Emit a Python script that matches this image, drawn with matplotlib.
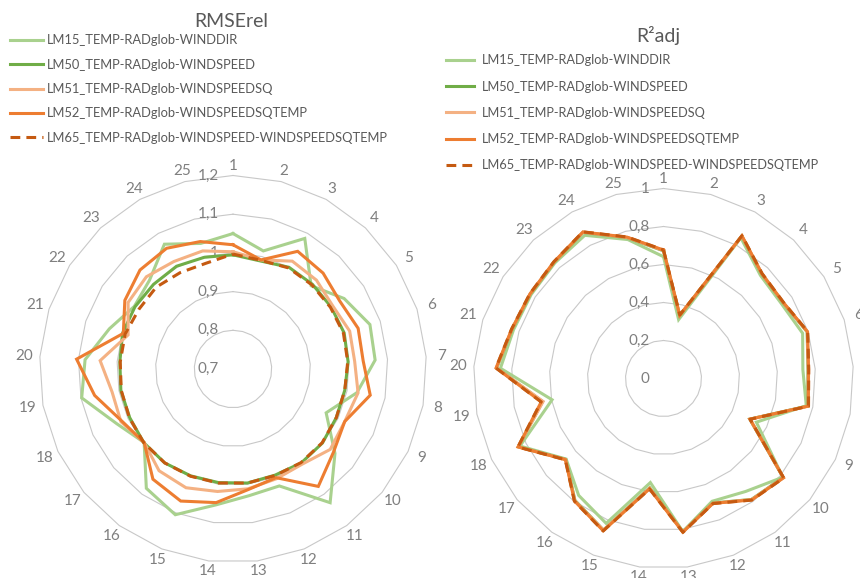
import numpy as np
import matplotlib
matplotlib.use("Agg")
import matplotlib.pyplot as plt

plt.rcParams['font.family'] = ['Lato', 'DejaVu Sans']

categories = [str(i) for i in range(1, 26)]

series_names = [
    "LM15_TEMP-RADglob-WINDDIR",
    "LM50_TEMP-RADglob-WINDSPEED",
    "LM51_TEMP-RADglob-WINDSPEEDSQ",
    "LM52_TEMP-RADglob-WINDSPEEDSQTEMP",
    "LM65_TEMP-RADglob-WINDSPEED-WINDSPEEDSQTEMP",
]
series_colors = ["#A9D18E", "#70AD47", "#F4B183", "#ED7D31", "#C55A11"]

# RMSErel per station
rmse_lm15 = [1.050, 1.015, 1.085, 0.995, 1.040, 1.072, 1.068, 1.026, 0.966, 1.042,
             1.127, 1.025, 1.030, 1.054, 1.105, 1.081, 0.998, 1.032, 1.098, 1.083,
             1.036, 1.002, 1.015, 1.068, 1.035]
rmse_lm50 = [0.995, 0.988, 1.000, 1.000, 1.000, 1.002, 0.998, 0.994, 0.995, 1.000,
             1.000, 0.995, 0.997, 0.996, 0.997, 1.000, 0.999, 0.995, 0.995, 0.993,
             1.000, 1.000, 1.000, 1.003, 0.998]
rmse_lm51 = [1.003, 0.991, 1.018, 1.015, 1.005, 1.017, 1.015, 1.029, 1.019, 1.026,
             1.004, 1.005, 1.012, 1.019, 1.030, 1.025, 0.998, 1.020, 1.018, 1.044,
             0.985, 1.021, 1.027, 1.017, 1.015]
rmse_lm52 = [1.021, 0.991, 1.047, 1.040, 1.027, 1.040, 1.037, 1.061, 1.019, 1.037,
             1.075, 1.002, 1.014, 1.048, 1.067, 1.052, 0.998, 1.017, 1.064, 1.105,
             0.998, 1.031, 1.051, 1.056, 1.040]
rmse_lm65 = [0.997, 0.990, 0.998, 0.998, 0.998, 1.000, 0.997, 0.994, 0.995, 0.999,
             0.999, 0.996, 0.997, 0.997, 0.998, 1.000, 0.999, 0.996, 0.994, 0.992,
             0.993, 0.988, 0.990, 0.984, 0.982]

# adjusted R² per station
r2_lm15 = [0.641, 0.320, 0.845, 0.745, 0.735, 0.770, 0.735, 0.765, 0.540, 0.815,
           0.735, 0.695, 0.812, 0.552, 0.820, 0.760, 0.665, 0.835, 0.597, 0.860,
           0.830, 0.825, 0.835, 0.860, 0.755]
r2_lm50 = [0.672, 0.342, 0.855, 0.755, 0.745, 0.795, 0.762, 0.773, 0.502, 0.818,
           0.787, 0.705, 0.813, 0.580, 0.858, 0.793, 0.668, 0.844, 0.648, 0.880,
           0.838, 0.830, 0.840, 0.878, 0.765]
r2_lm51 = [0.674, 0.343, 0.856, 0.756, 0.746, 0.796, 0.763, 0.775, 0.503, 0.819,
           0.788, 0.706, 0.814, 0.582, 0.858, 0.795, 0.669, 0.845, 0.645, 0.881,
           0.839, 0.831, 0.841, 0.879, 0.766]
r2_lm52 = [0.676, 0.344, 0.857, 0.757, 0.747, 0.797, 0.765, 0.776, 0.503, 0.820,
           0.790, 0.707, 0.815, 0.585, 0.862, 0.797, 0.670, 0.846, 0.655, 0.883,
           0.840, 0.832, 0.842, 0.880, 0.768]
r2_lm65 = [0.677, 0.345, 0.858, 0.758, 0.748, 0.798, 0.766, 0.777, 0.504, 0.821,
           0.791, 0.708, 0.816, 0.586, 0.863, 0.798, 0.671, 0.847, 0.656, 0.884,
           0.841, 0.833, 0.843, 0.881, 0.769]

rmse_rings = [0.7, 0.8, 0.9, 1.0, 1.1, 1.2]
rmse_ring_labels = ["0,7", "0,8", "0,9", "1", "1,1", "1,2"]
r2_rings = [0.0, 0.2, 0.4, 0.6, 0.8, 1.0]
r2_ring_labels = ["0", "0,2", "0,4", "0,6", "0,8", "1"]

TEXT = "#595959"
LABEL = "#7F7F7F"
GRID = "#C8C8C8"
LW = 2.2

fig = plt.figure(figsize=(8.6, 5.78), dpi=100)


def radar(rect, data, rings, ring_labels, title, title_xy):
    ax = fig.add_axes(rect, projection="polar")
    ax.set_facecolor("none")
    ax.set_theta_zero_location("N")
    ax.set_theta_direction(-1)
    rmin, rmax = rings[0], rings[-1]
    ax.set_ylim(rmin, rmax)
    ax.grid(False)
    ax.set_xticks([])
    ax.set_yticks([])
    ax.spines["polar"].set_visible(False)

    n = len(categories)
    theta = np.linspace(0, 2 * np.pi, n, endpoint=False)
    closed = np.append(theta, theta[0])

    # polygonal gridlines
    for r in rings[1:]:
        ax.plot(closed, [r] * (n + 1), color=GRID, lw=0.8, zorder=1, clip_on=False)

    handles = []
    for vals, name, col in zip(data, series_names, series_colors):
        v = np.append(vals, vals[0])
        ls = (0, (3.2, 2.0)) if name.startswith("LM65") else "-"
        ln, = ax.plot(closed, v, color=col, lw=LW, ls=ls, zorder=3,
                      solid_joinstyle="miter", clip_on=False, label=name)
        handles.append(ln)

    # category labels just outside the outer ring (points offset)
    for t, c in zip(theta, categories):
        gap = 7.0 + 4.0 * abs(np.sin(t))
        ax.annotate(c, xy=(t, rmax), xytext=(gap * np.sin(t), gap * np.cos(t)),
                    textcoords="offset points", ha="center", va="center",
                    fontsize=11, color=LABEL, annotation_clip=False)

    for r, lbl in zip(rings, ring_labels):
        ax.annotate(lbl, xy=(0, r), xytext=(-10, 0), textcoords="offset points",
                    ha="right", va="center", fontsize=11, color=LABEL, zorder=2)

    ax.text(title_xy[0], title_xy[1], title, transform=ax.transAxes,
            ha="center", va="center", fontsize=14, color=TEXT)
    return ax, handles


W, H = 860.0, 578.0


def rect_from(cx, cy, rad):
    return [(cx - rad) / W, 1 - (cy + rad) / H, 2 * rad / W, 2 * rad / H]


ax1, h1 = radar(rect_from(233, 369, 193.5),
                [rmse_lm15, rmse_lm50, rmse_lm51, rmse_lm52, rmse_lm65],
                rmse_rings, rmse_ring_labels, "RMSErel", (0.495, 1.398))
ax2, h2 = radar(rect_from(663.5, 378.5, 190),
                [r2_lm15, r2_lm50, r2_lm51, r2_lm52, r2_lm65],
                r2_rings, r2_ring_labels, "R²adj", (0.4855, 1.402))

fig.legend(handles=h1, loc="upper left", bbox_to_anchor=(10 / W, 1 - 34.5 / H),
           frameon=False, fontsize=9.3, labelcolor=TEXT, handlelength=2.55,
           handletextpad=0.3, labelspacing=0.95, borderpad=0, borderaxespad=0)
fig.legend(handles=h2, loc="upper left", bbox_to_anchor=(446 / W, 1 - 54.5 / H),
           frameon=False, fontsize=9.2, labelcolor=TEXT, handlelength=2.2,
           handletextpad=0.6, labelspacing=1.11, borderpad=0, borderaxespad=0)

fig.savefig("out.png", dpi=100)
